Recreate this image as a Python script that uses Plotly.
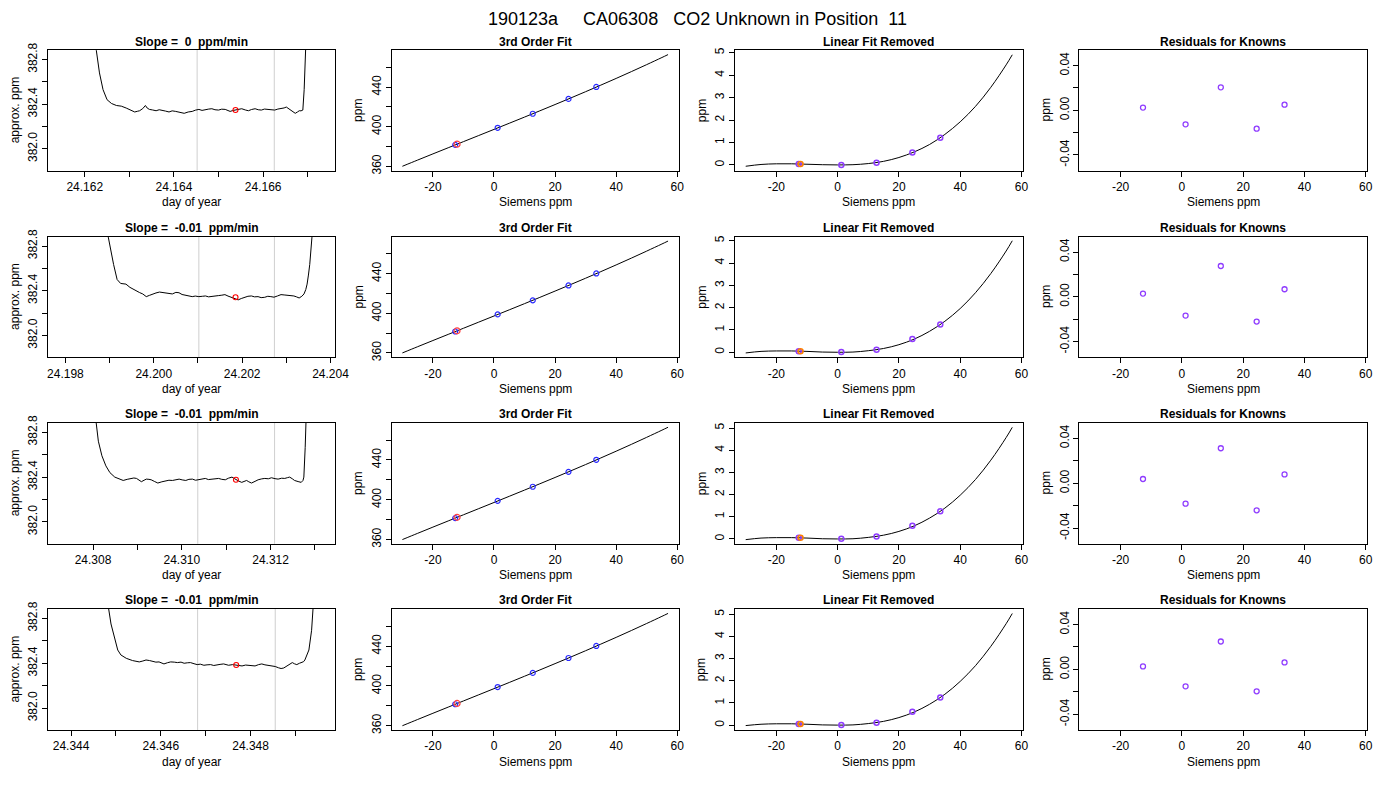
import plotly.graph_objects as go
from plotly.subplots import make_subplots

NB = "\u00a0"
FONT = "Liberation Sans, Arial, Helvetica, sans-serif"

main_title = ("190123a" + NB * 5 + "CA06308" + NB * 3 +
              "CO2 Unknown in Position" + NB * 2 + "11")
slope_vals = ["0", "-0.01", "-0.01", "-0.01"]

# ---- column 1: raw trace of the unknown for each run (day of year, ppm)
ts1_x = [24.16218, 24.16226, 24.16233, 24.16241, 24.16250, 24.16260, 24.16271,
         24.16282, 24.16293, 24.16299, 24.16304, 24.16308, 24.16312, 24.16318,
         24.16323, 24.16330, 24.16336, 24.16340, 24.16345, 24.16352, 24.16360,
         24.16367, 24.16374, 24.16381, 24.16389, 24.16396, 24.16404, 24.16413,
         24.16423, 24.16432, 24.16441, 24.16448, 24.16456, 24.16463, 24.16471,
         24.16478, 24.16485, 24.16492, 24.16500, 24.16507, 24.16515, 24.16520,
         24.16526, 24.16532, 24.16539, 24.16545, 24.16552, 24.16560, 24.16567,
         24.16574, 24.16582, 24.16589, 24.16596, 24.16603, 24.16611, 24.16618,
         24.16626, 24.16633, 24.16641, 24.16647, 24.16652, 24.16657, 24.16663,
         24.16668, 24.16672, 24.16677, 24.16681, 24.16685, 24.16689, 24.16692,
         24.16696, 24.16700]
ts1_y = [383.40, 382.88, 382.68, 382.53, 382.44, 382.406, 382.388,
         382.382, 382.365, 382.352, 382.347, 382.338, 382.330, 382.336,
         382.341, 382.360, 382.388, 382.365, 382.353, 382.348, 382.341,
         382.350, 382.347, 382.338, 382.330, 382.340, 382.335, 382.326,
         382.318, 382.330, 382.335, 382.346, 382.353, 382.344, 382.347,
         382.356, 382.359, 382.350, 382.347, 382.355, 382.353, 382.342,
         382.335, 382.343, 382.347, 382.355, 382.359, 382.348, 382.341,
         382.352, 382.359, 382.350, 382.347, 382.356, 382.353, 382.345,
         382.347, 382.356, 382.359, 382.366, 382.374, 382.360, 382.347,
         382.330, 382.318, 382.330, 382.341, 382.340, 382.347, 382.53,
         382.89, 383.40]

ts2_x = [24.19893, 24.19897, 24.19909, 24.19917, 24.19925, 24.19937, 24.19946,
         24.19961, 24.19968, 24.19975, 24.19979, 24.19983, 24.19990, 24.19998,
         24.20005, 24.20013, 24.20020, 24.20028, 24.20035, 24.20042, 24.20050,
         24.20057, 24.20064, 24.20072, 24.20080, 24.20087, 24.20094, 24.20102,
         24.20110, 24.20117, 24.20124, 24.20132, 24.20139, 24.20146, 24.20154,
         24.20161, 24.20168, 24.20176, 24.20184, 24.20191, 24.20198, 24.20206,
         24.20213, 24.20221, 24.20228, 24.20236, 24.20243, 24.20251, 24.20258,
         24.20265, 24.20272, 24.20280, 24.20288, 24.20295, 24.20303, 24.20310,
         24.20317, 24.20323, 24.20329, 24.20335, 24.20340, 24.20344, 24.20347,
         24.20350, 24.20353, 24.20358, 24.20362]
ts2_y = [383.30, 382.88, 382.635, 382.50, 382.465, 382.459, 382.43,
         382.394, 382.383, 382.371, 382.360, 382.347, 382.358, 382.371,
         382.380, 382.388, 382.384, 382.382, 382.374, 382.371, 382.385,
         382.382, 382.366, 382.359, 382.352, 382.347, 382.352, 382.347,
         382.350, 382.353, 382.345, 382.347, 382.354, 382.356, 382.360,
         382.365, 382.352, 382.341, 382.330, 382.318, 382.330, 382.341,
         382.350, 382.353, 382.345, 382.347, 382.338, 382.341, 382.350,
         382.347, 382.342, 382.353, 382.365, 382.362, 382.359, 382.357,
         382.353, 382.345, 382.335, 382.350, 382.371, 382.41, 382.459,
         382.54, 382.635, 382.88, 383.30]

ts3_x = [24.30802, 24.30806, 24.30812, 24.30820, 24.30829, 24.30838, 24.30849,
         24.30868, 24.30877, 24.30886, 24.30892, 24.30898, 24.30904, 24.30909,
         24.30915, 24.30920, 24.30926, 24.30931, 24.30939, 24.30946, 24.30955,
         24.30964, 24.30971, 24.30979, 24.30986, 24.30994, 24.31001, 24.31009,
         24.31016, 24.31024, 24.31031, 24.31039, 24.31046, 24.31053, 24.31060,
         24.31068, 24.31075, 24.31083, 24.31090, 24.31098, 24.31105, 24.31113,
         24.31118, 24.31122, 24.31128, 24.31135, 24.31140, 24.31146, 24.31151,
         24.31157, 24.31165, 24.31172, 24.31180, 24.31187, 24.31195, 24.31202,
         24.31210, 24.31217, 24.31225, 24.31232, 24.31238, 24.31243, 24.31249,
         24.31254, 24.31262, 24.31269, 24.31273, 24.31275, 24.31278, 24.31280,
         24.31283]
ts3_y = [383.30, 382.92, 382.72, 382.59, 382.50, 382.44, 382.40,
         382.370, 382.380, 382.388, 382.392, 382.388, 382.370, 382.359,
         382.372, 382.382, 382.380, 382.376, 382.360, 382.347, 382.358,
         382.365, 382.372, 382.370, 382.378, 382.382, 382.375, 382.370,
         382.380, 382.382, 382.372, 382.376, 382.384, 382.388, 382.378,
         382.382, 382.390, 382.388, 382.380, 382.376, 382.390, 382.400,
         382.388, 382.376, 382.365, 382.353, 382.362, 382.370, 382.358,
         382.347, 382.362, 382.376, 382.384, 382.388, 382.385, 382.394,
         382.386, 382.382, 382.390, 382.388, 382.395, 382.400, 382.385,
         382.370, 382.360, 382.353, 382.370, 382.40, 382.665, 382.92,
         383.30]

ts4_x = [24.34478, 24.34482, 24.34489, 24.34497, 24.34504, 24.34511, 24.34523,
         24.34537, 24.34545, 24.34552, 24.34560, 24.34567, 24.34575, 24.34582,
         24.34589, 24.34596, 24.34602, 24.34607, 24.34615, 24.34622, 24.34630,
         24.34637, 24.34645, 24.34652, 24.34659, 24.34666, 24.34674, 24.34681,
         24.34688, 24.34696, 24.34703, 24.34711, 24.34718, 24.34725, 24.34732,
         24.34740, 24.34746, 24.34751, 24.34760, 24.34768, 24.34775, 24.34781,
         24.34789, 24.34796, 24.34803, 24.34810, 24.34818, 24.34825, 24.34832,
         24.34840, 24.34848, 24.34855, 24.34862, 24.34868, 24.34874, 24.34880,
         24.34887, 24.34893, 24.34898, 24.34903, 24.34909, 24.34914, 24.34918,
         24.34921, 24.34926, 24.34930, 24.34936, 24.34942, 24.34946]
ts4_y = [383.30, 382.93, 382.75, 382.62, 382.518, 382.474, 382.444,
         382.424, 382.418, 382.412, 382.420, 382.429, 382.424, 382.418,
         382.410, 382.412, 382.403, 382.394, 382.405, 382.412, 382.410,
         382.406, 382.410, 382.400, 382.404, 382.406, 382.396, 382.388,
         382.392, 382.382, 382.386, 382.388, 382.380, 382.382, 382.390,
         382.394, 382.386, 382.382, 382.388, 382.385, 382.380, 382.376,
         382.384, 382.382, 382.378, 382.376, 382.388, 382.394, 382.386,
         382.382, 382.376, 382.371, 382.360, 382.353, 382.358, 382.371,
         382.392, 382.406, 382.395, 382.388, 382.400, 382.406, 382.414,
         382.429, 382.470, 382.518, 382.694, 382.93, 383.30]

win_start = [24.16452, 24.20102, 24.31036, 24.34682]
win_end = [24.16625, 24.20273, 24.31209, 24.34855]
unk_time = [24.16538, 24.20185, 24.31122, 24.34768]
unk_mean = [382.347, 382.341, 382.376, 382.385]

# ---- columns 2-4: calibration against the Siemens analyzer
known_x = [-12.7, 1.2, 12.7, 24.4, 33.5]
known_ppm = [381.6, 398.9, 413.1, 428.1, 440.2]
unknown_x = -12.1

fit_x = [-30, -25, -20, -15, -10, -5, 0, 5, 10, 15, 20, 25, 30, 35, 40,
         45, 50, 55, 57]
fit_ppm = [360.00, 366.28, 372.52, 378.72, 384.91, 391.09, 397.28, 403.49,
           409.74, 416.05, 422.42, 428.87, 435.41, 442.06, 448.82, 455.72,
           462.77, 469.97, 472.91]

nonlin_row1 = [-0.06, 0.02, 0.05, 0.05, 0.03, 0.01, 0.0, 0.01, 0.06, 0.16,
               0.33, 0.58, 0.91, 1.36, 1.92, 2.61, 3.46, 4.46, 4.91]
nonlin_row2 = [-0.03, 0.04, 0.06, 0.06, 0.04, 0.01, 0.0, 0.01, 0.07, 0.17,
               0.34, 0.59, 0.94, 1.39, 1.96, 2.67, 3.53, 4.54, 5.00]
nonlin_row3 = [-0.03, 0.04, 0.06, 0.06, 0.04, 0.01, 0.0, 0.01, 0.07, 0.17,
               0.34, 0.59, 0.94, 1.39, 1.97, 2.68, 3.55, 4.57, 5.03]
nonlin_row4 = [-0.02, 0.04, 0.06, 0.06, 0.04, 0.01, 0.0, 0.01, 0.07, 0.17,
               0.34, 0.59, 0.94, 1.39, 1.97, 2.68, 3.55, 4.57, 5.03]
known_nonlin = [[0.04, 0.00, 0.10, 0.55, 1.21],
                [0.05, 0.01, 0.11, 0.59, 1.24],
                [0.05, 0.01, 0.11, 0.60, 1.25],
                [0.05, 0.01, 0.11, 0.60, 1.25]]
unknown_nonlin = [0.04, 0.05, 0.05, 0.05]

resid_row1 = [0.0024, -0.0126, 0.0206, -0.0165, 0.0050]
resid_row2 = [0.0029, -0.0168, 0.0276, -0.0221, 0.0068]
resid_row3 = [0.0038, -0.0182, 0.0312, -0.0241, 0.0079]
resid_row4 = [0.0027, -0.0151, 0.0249, -0.0195, 0.0062]

ts_x = [ts1_x, ts2_x, ts3_x, ts4_x]
ts_y = [ts1_y, ts2_y, ts3_y, ts4_y]
nonlin = [nonlin_row1, nonlin_row2, nonlin_row3, nonlin_row4]
resid = [resid_row1, resid_row2, resid_row3, resid_row4]

ts_ticks = [[24.162, 24.163, 24.164, 24.165, 24.166, 24.167],
            [24.198, 24.199, 24.200, 24.201, 24.202, 24.203, 24.204],
            [24.308, 24.309, 24.310, 24.311, 24.312, 24.313],
            [24.344, 24.345, 24.346, 24.347, 24.348, 24.349]]
ts_range = [[24.16118, 24.16762], [24.19761, 24.20411],
            [24.30699, 24.31346], [24.34349, 24.34989]]
nonlin_range = [[-0.25, 5.12], [-0.22, 5.19], [-0.22, 5.24], [-0.22, 5.24]]
siemens_ticks = [-20, 0, 20, 40, 60]

# layout in pixels
W, H = 1400, 800
col_px = [(47.7, 338.0), (395.0, 685.0), (742.0, 1033.0), (1090.0, 1381.0)]
row_px = [(42.7, 165.0), (232.0, 354.5), (421.0, 544.0), (610.0, 733.0)]

KNOWN_BLUE = "#2b2bff"
VIOLET = "#8f3cff"

fig = make_subplots(rows=4, cols=4)

axis_common = dict(showline=True, mirror=True, linecolor="black", linewidth=1,
                   ticks="outside", ticklen=5, tickwidth=1, tickcolor="black",
                   showgrid=False, zeroline=False,
                   tickfont=dict(family=FONT, size=12, color="black"))


def alt_labels(vals, fmt):
    return [fmt.format(v) if i % 2 == 0 else "" for i, v in enumerate(vals)]


annotations = []
shapes = []

for r in range(4):
    ydom = [1 - row_px[r][1] / H, 1 - row_px[r][0] / H]
    for c in range(4):
        xdom = [col_px[c][0] / W, col_px[c][1] / W]
        fig.update_xaxes(domain=xdom, row=r + 1, col=c + 1, **axis_common)
        fig.update_yaxes(domain=ydom, row=r + 1, col=c + 1, tickangle=-90,
                         **axis_common)
        xc = (col_px[c][0] + col_px[c][1]) / 2 / W
        yc = 1 - (row_px[r][0] + row_px[r][1]) / 2 / H
        if c == 0:
            title = "Slope =" + NB * 2 + slope_vals[r] + NB * 2 + "ppm/min"
            xt, yt = "day of year", "approx. ppm"
        elif c == 1:
            title, xt, yt = "3rd Order Fit", "Siemens ppm", "ppm"
        elif c == 2:
            title, xt, yt = "Linear Fit Removed", "Siemens ppm", "ppm"
        else:
            title, xt, yt = "Residuals for Knowns", "Siemens ppm", "ppm"
        annotations.append(dict(text="<b>" + title + "</b>", x=xc,
                                y=1 - (row_px[r][0] - 8.5) / H,
                                xref="paper", yref="paper", showarrow=False,
                                xanchor="center", yanchor="middle",
                                font=dict(family=FONT, size=12, color="black")))
        annotations.append(dict(text=xt, x=xc, y=1 - (row_px[r][1] + 32) / H,
                                xref="paper", yref="paper", showarrow=False,
                                xanchor="center", yanchor="middle",
                                font=dict(family=FONT, size=12, color="black")))
        annotations.append(dict(text=yt, x=(col_px[c][0] - 33.5) / W, y=yc,
                                xref="paper", yref="paper", showarrow=False,
                                textangle=-90, xanchor="center", yanchor="middle",
                                font=dict(family=FONT, size=12, color="black")))

    # column 1: trace of the unknown
    fig.add_trace(go.Scatter(x=ts_x[r], y=ts_y[r], mode="lines",
                             line=dict(color="black", width=1)),
                  row=r + 1, col=1)
    fig.add_trace(go.Scatter(x=[unk_time[r]], y=[unk_mean[r]], mode="markers",
                             marker=dict(symbol="circle-open", size=5, color="red",
                                         line=dict(width=1.1))),
                  row=r + 1, col=1)
    idx = r * 4 + 1
    xref = "x" if idx == 1 else "x%d" % idx
    yref = ("y" if idx == 1 else "y%d" % idx) + " domain"
    for t in (win_start[r], win_end[r]):
        shapes.append(dict(type="line", xref=xref, yref=yref, x0=t, x1=t,
                           y0=0, y1=1, layer="below",
                           line=dict(color="#cfcfcf", width=1)))
    fig.update_xaxes(range=ts_range[r], tickvals=ts_ticks[r],
                     ticktext=alt_labels(ts_ticks[r], "{:.3f}"),
                     row=r + 1, col=1)
    fig.update_yaxes(range=[381.805, 382.885],
                     tickvals=[382.0, 382.2, 382.4, 382.6, 382.8],
                     ticktext=alt_labels([382.0, 382.2, 382.4, 382.6, 382.8], "{:.1f}"),
                     row=r + 1, col=1)

    # column 2: cubic fit
    fig.add_trace(go.Scatter(x=fit_x, y=fit_ppm, mode="lines", line_shape="spline",
                             line=dict(color="black", width=1)),
                  row=r + 1, col=2)
    fig.add_trace(go.Scatter(x=known_x, y=known_ppm, mode="markers",
                             marker=dict(symbol="circle-open", size=5,
                                         color=KNOWN_BLUE, line=dict(width=1.2))),
                  row=r + 1, col=2)
    fig.add_trace(go.Scatter(x=[unknown_x], y=[unk_mean[r]], mode="markers",
                             marker=dict(symbol="circle-open", size=6,
                                         color="#ff4040", line=dict(width=1.2))),
                  row=r + 1, col=2)
    fig.update_yaxes(range=[355.7, 477.5],
                     tickvals=[360, 380, 400, 420, 440, 460],
                     ticktext=alt_labels([360, 380, 400, 420, 440, 460], "{}"),
                     row=r + 1, col=2)

    # column 3: linear fit removed
    fig.add_trace(go.Scatter(x=fit_x, y=nonlin[r], mode="lines", line_shape="spline",
                             line=dict(color="black", width=1)),
                  row=r + 1, col=3)
    fig.add_trace(go.Scatter(x=known_x, y=known_nonlin[r], mode="markers",
                             marker=dict(symbol="circle-open", size=5,
                                         color=VIOLET, line=dict(width=1.5))),
                  row=r + 1, col=3)
    fig.add_trace(go.Scatter(x=[unknown_x], y=[unknown_nonlin[r]], mode="markers",
                             marker=dict(symbol="circle-open", size=5,
                                         color="#ff8000", line=dict(width=1.5))),
                  row=r + 1, col=3)
    fig.update_yaxes(range=nonlin_range[r], tickvals=[0, 1, 2, 3, 4, 5],
                     row=r + 1, col=3)

    # column 4: residuals
    fig.add_trace(go.Scatter(x=known_x, y=resid[r], mode="markers",
                             marker=dict(symbol="circle-open", size=5,
                                         color=VIOLET, line=dict(width=1.3))),
                  row=r + 1, col=4)
    fig.update_yaxes(range=[-0.054, 0.054],
                     tickvals=[-0.04, -0.02, 0.0, 0.02, 0.04],
                     ticktext=alt_labels([-0.04, -0.02, 0.0, 0.02, 0.04], "{:.2f}"),
                     row=r + 1, col=4)

    for c in (2, 3, 4):
        fig.update_xaxes(range=[-33.48, 60.48], tickvals=siemens_ticks,
                         ticktext=[str(v) for v in siemens_ticks],
                         row=r + 1, col=c)

annotations.append(dict(text=main_title, x=704 / W, y=1 - 11 / H,
                        xref="paper", yref="paper", showarrow=False,
                        xanchor="center", yanchor="middle",
                        font=dict(family=FONT, size=18, color="black")))

fig.update_layout(width=W, height=H, margin=dict(l=0, r=0, t=0, b=0),
                  paper_bgcolor="white", plot_bgcolor="white",
                  showlegend=False, annotations=annotations, shapes=shapes,
                  font=dict(family=FONT, size=12, color="black"))

# no page margin or scrollbars, so the 1400x800 figure fills the window exactly
page_fix = ("document.documentElement.style.overflow = 'hidden';"
            "document.body.style.margin = '0px';"
            "document.body.style.overflow = 'hidden';")
fig.write_html("out.html", post_script=page_fix,
               config={"displayModeBar": False, "responsive": False})
